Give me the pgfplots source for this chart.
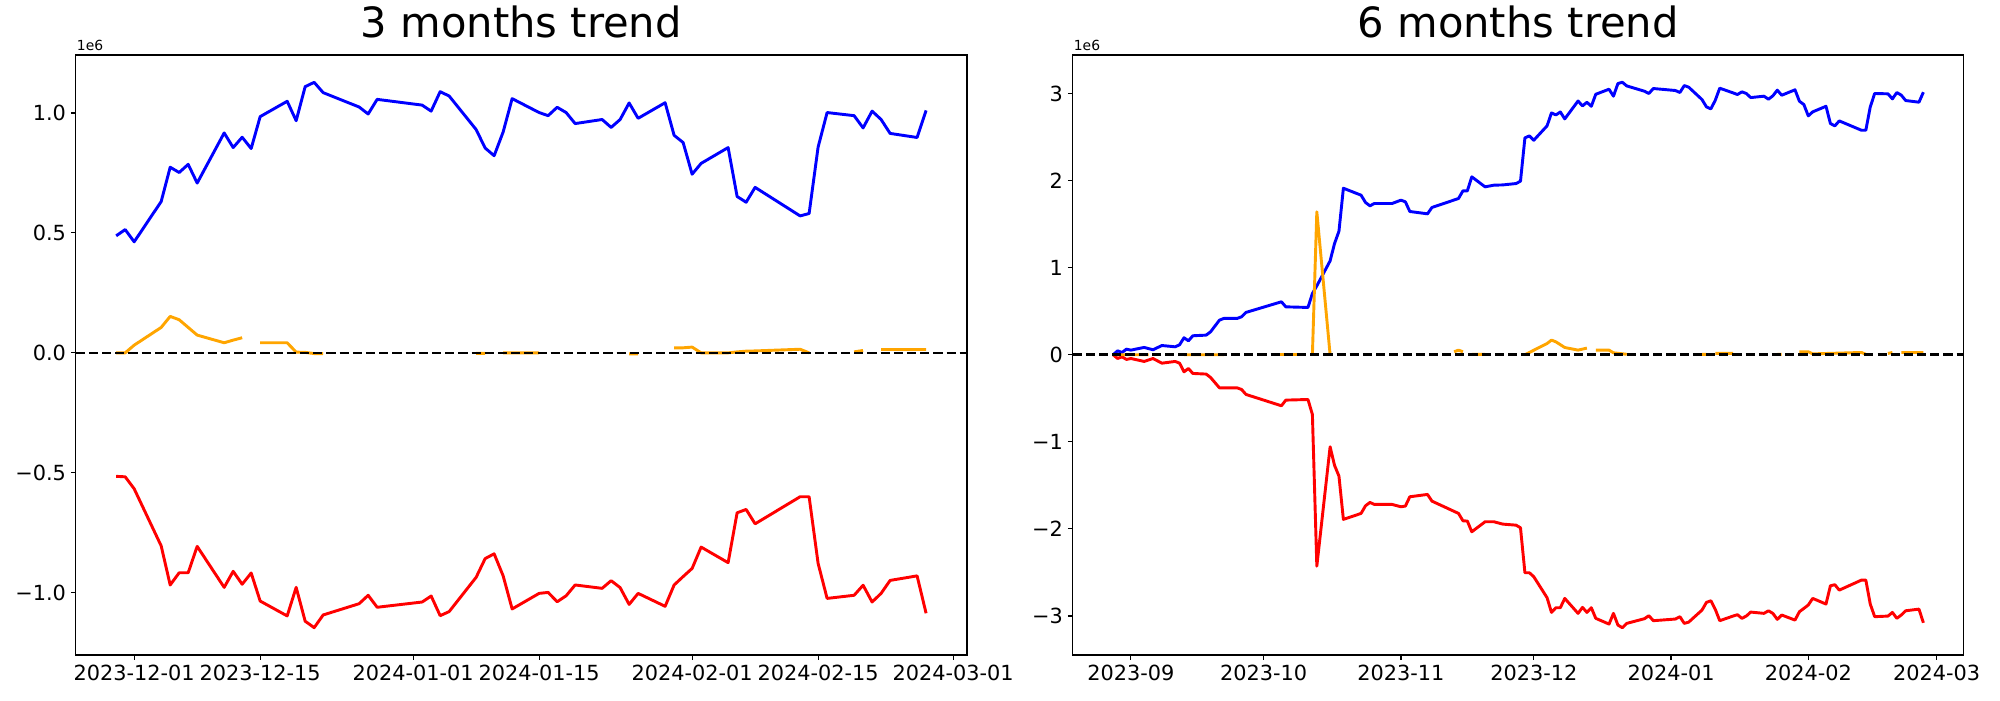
\documentclass[border=0pt]{standalone}
\usepackage{fontspec}
\setmainfont{DejaVu Sans}
\usepackage{pgfplots}
\usepackage{pgfplotstable}
\pgfplotsset{compat=1.18}
\definecolor{mplorange}{HTML}{FFA500}

% values in units of 1e6, x in days
\pgfplotstableread{
day blue red orange
-2 0.488 -0.515 0.000
-1 0.514 -0.517 0.000
0 0.463 -0.567 0.032
3 0.631 -0.805 0.106
4 0.774 -0.968 0.152
5 0.752 -0.917 0.138
6 0.786 -0.917 0.106
7 0.708 -0.807 0.074
10 0.917 -0.978 0.042
11 0.856 -0.911 0.053
12 0.899 -0.965 0.063
13 0.852 -0.918 nan
14 0.985 -1.035 0.042
17 1.049 -1.097 0.042
18 0.968 -0.978 0.003
19 1.110 -1.119 0.002
20 1.128 -1.146 -0.003
21 1.085 -1.093 -0.003
25 1.025 -1.046 nan
26 0.996 -1.011 nan
27 1.057 -1.061 nan
32 1.033 -1.039 nan
33 1.008 -1.014 nan
34 1.089 -1.096 nan
35 1.071 -1.079 nan
38 0.931 -0.936 -0.002
39 0.854 -0.858 -0.002
40 0.822 -0.838 nan
41 0.921 -0.930 0.000
42 1.060 -1.068 0.000
45 1.002 -1.003 0.000
46 0.989 -0.999 nan
47 1.024 -1.038 nan
48 1.002 -1.013 nan
49 0.956 -0.968 nan
52 0.973 -0.982 nan
53 0.940 -0.950 nan
54 0.973 -0.979 nan
55 1.042 -1.049 -0.004
56 0.978 -1.003 -0.004
59 1.043 -1.057 nan
60 0.907 -0.968 0.021
61 0.877 -0.933 0.021
62 0.745 -0.899 0.024
63 0.790 -0.810 0.000
66 0.856 -0.875 0.000
67 0.652 -0.667 0.004
68 0.628 -0.653 0.007
69 0.690 -0.713 0.008
74 0.571 -0.600 0.015
75 0.581 -0.600 0.000
76 0.858 -0.878 nan
77 1.002 -1.024 nan
80 0.989 -1.011 0.004
81 0.938 -0.969 0.010
82 1.008 -1.039 nan
83 0.973 -1.003 0.014
84 0.915 -0.949 0.014
87 0.898 -0.930 0.014
88 1.011 -1.086 0.014
}\threemonths

\pgfplotstableread{
day blue red
-4 0.000 0.000
-3 0.045 -0.043
-2 0.026 -0.024
-1 0.064 -0.054
0 0.053 -0.043
3 0.084 -0.077
5 0.057 -0.043
7 0.106 -0.097
10 0.091 -0.077
11 0.114 -0.097
12 0.195 -0.196
13 0.160 -0.158
14 0.218 -0.215
17 0.225 -0.222
18 0.263 -0.261
20 0.397 -0.380
21 0.417 -0.380
24 0.417 -0.380
25 0.436 -0.399
26 0.486 -0.456
34 0.608 -0.586
35 0.550 -0.521
40 0.543 -0.514
41 0.703 -0.686
42 0.791 -2.427
45 1.078 -1.057
46 1.277 -1.270
47 1.419 -1.394
48 1.912 -1.891
52 1.832 -1.822
53 1.748 -1.734
54 1.710 -1.696
55 1.737 -1.719
59 1.737 -1.719
61 1.775 -1.746
62 1.756 -1.738
63 1.645 -1.631
67 1.618 -1.604
68 1.691 -1.681
74 1.794 -1.822
75 1.882 -1.907
76 1.882 -1.910
77 2.043 -2.033
80 1.928 -1.918
82 1.947 -1.918
84 1.950 -1.945
87 1.966 -1.957
88 1.993 -1.987
89 2.490 -2.503
90 2.513 -2.503
91 2.463 -2.549
94 2.628 -2.790
95 2.777 -2.959
96 2.754 -2.905
97 2.788 -2.905
98 2.708 -2.798
101 2.914 -2.970
102 2.857 -2.901
103 2.899 -2.959
104 2.853 -2.905
105 2.991 -3.027
108 3.049 -3.093
109 2.969 -2.970
110 3.114 -3.104
111 3.129 -3.135
112 3.087 -3.085
116 3.026 -3.031
117 3.000 -2.997
118 3.057 -3.054
123 3.034 -3.035
124 3.011 -3.008
125 3.091 -3.085
126 3.072 -3.070
129 2.930 -2.932
130 2.846 -2.844
131 2.823 -2.825
132 2.923 -2.924
133 3.061 -3.054
136 3.007 -3.001
137 2.988 -2.985
138 3.019 -3.027
139 3.000 -3.001
140 2.953 -2.955
143 2.969 -2.970
144 2.934 -2.940
145 2.973 -2.970
146 3.038 -3.039
147 2.980 -2.989
150 3.042 -3.047
151 2.911 -2.951
152 2.873 -2.913
153 2.743 -2.874
154 2.789 -2.798
157 2.853 -2.863
158 2.655 -2.653
159 2.628 -2.641
160 2.685 -2.703
165 2.578 -2.588
166 2.578 -2.588
167 2.846 -2.863
168 3.000 -3.008
171 2.996 -3.001
172 2.938 -2.959
173 3.011 -3.027
174 2.981 -2.989
175 2.919 -2.940
178 2.900 -2.921
179 3.015 -3.078
}\sixmonths

\pgfplotstableread{
day orange
-4 0
-3 0
-2 0
-1 0
0 0
3 0
4 0
5 nan
12 0
13 0
14 0
17 0
18 0
20 0
21 0
24 nan
33 0.003
35 0.003
39 0.003
40 nan
41 0
42 1.641
45 0
46 nan
73 0.034
74 0.053
75 0.034
76 nan
77 0.005
80 0.005
81 nan
89 0
90 0.026
94 0.129
95 0.168
96 0.148
98 0.083
101 0.053
103 0.076
104 nan
105 0.053
108 0.053
109 0.022
112 0.005
113 nan
129 0.005
130 0.005
131 nan
132 0.015
136 0.015
137 nan
146 0.005
147 0.005
148 nan
151 0.034
153 0.034
154 0.010
165 0.026
166 0.005
167 nan
171 0.015
172 0.026
173 nan
174 0.026
179 0.026
}\sixorange

\pgfplotsset{
  trend/.style={
    scale only axis,
    width=641.7pt, height=432pt,
    anchor=south west,
    axis line style={line width=0.8pt},
    tick align=outside,
    tick pos=left,
    major tick length=3.5pt,
    major tick style={black, line width=0.8pt},
    tick label style={font=\fontsize{15}{18}\selectfont},
    /pgf/number format/assume math mode=true,
    scaled ticks=false,
    unbounded coords=jump,
    title style={font=\fontsize{30}{36}\selectfont, anchor=base, at={(0.5,1)}, yshift=6.7pt},
  },
  series/.style={line width=2.1pt, line join=round, mark=none},
  zeroline/.style={black, line width=1.8pt, dash pattern=on 6.6pt off 2.9pt},
}

\begin{document}
\begin{tikzpicture}
\useasboundingbox (0,0) rectangle (1440pt,504pt);

\begin{axis}[trend, name=L, at={(54.5pt,32.4pt)},
  title={3 months trend},
  xmin=-6.5, xmax=92.54, ymin=-1.26, ymax=1.242,
  xtick={0,14,31,45,62,76,91},
  xticklabels={2023-12-01,2023-12-15,2024-01-01,2024-01-15,2024-02-01,2024-02-15,2024-03-01},
  ytick={-1,-0.5,0,0.5,1},
  yticklabels={−1.0,−0.5,0.0,0.5,1.0},
]
\addplot[series, blue] table[x=day, y=blue] {\threemonths};
\addplot[series, red] table[x=day, y=red] {\threemonths};
\addplot[series, mplorange] table[x=day, y=orange] {\threemonths};
\addplot[zeroline] coordinates {(-6.5,0) (92.54,0)};
\end{axis}
\node[anchor=base west, inner sep=0pt, font=\fontsize{10}{12}\selectfont] at ([xshift=0.7pt, yshift=3.1pt]L.north west) {1e6};

\begin{axis}[trend, name=R, at={(772.3pt,32.4pt)},
  title={6 months trend},
  xmin=-13.15, xmax=188.15, ymin=-3.448, ymax=3.442,
  xtick={0,30,61,91,122,153,182},
  xticklabels={2023-09,2023-10,2023-11,2023-12,2024-01,2024-02,2024-03},
  ytick={-3,-2,-1,0,1,2,3},
  yticklabels={−3,−2,−1,0,1,2,3},
]
\addplot[series, blue] table[x=day, y=blue] {\sixmonths};
\addplot[series, red] table[x=day, y=red] {\sixmonths};
\addplot[series, mplorange] table[x=day, y=orange] {\sixorange};
\addplot[zeroline] coordinates {(-13.15,0) (188.15,0)};
\end{axis}
\node[anchor=base west, inner sep=0pt, font=\fontsize{10}{12}\selectfont] at ([xshift=0.7pt, yshift=3.1pt]R.north west) {1e6};
\end{tikzpicture}
\end{document}
